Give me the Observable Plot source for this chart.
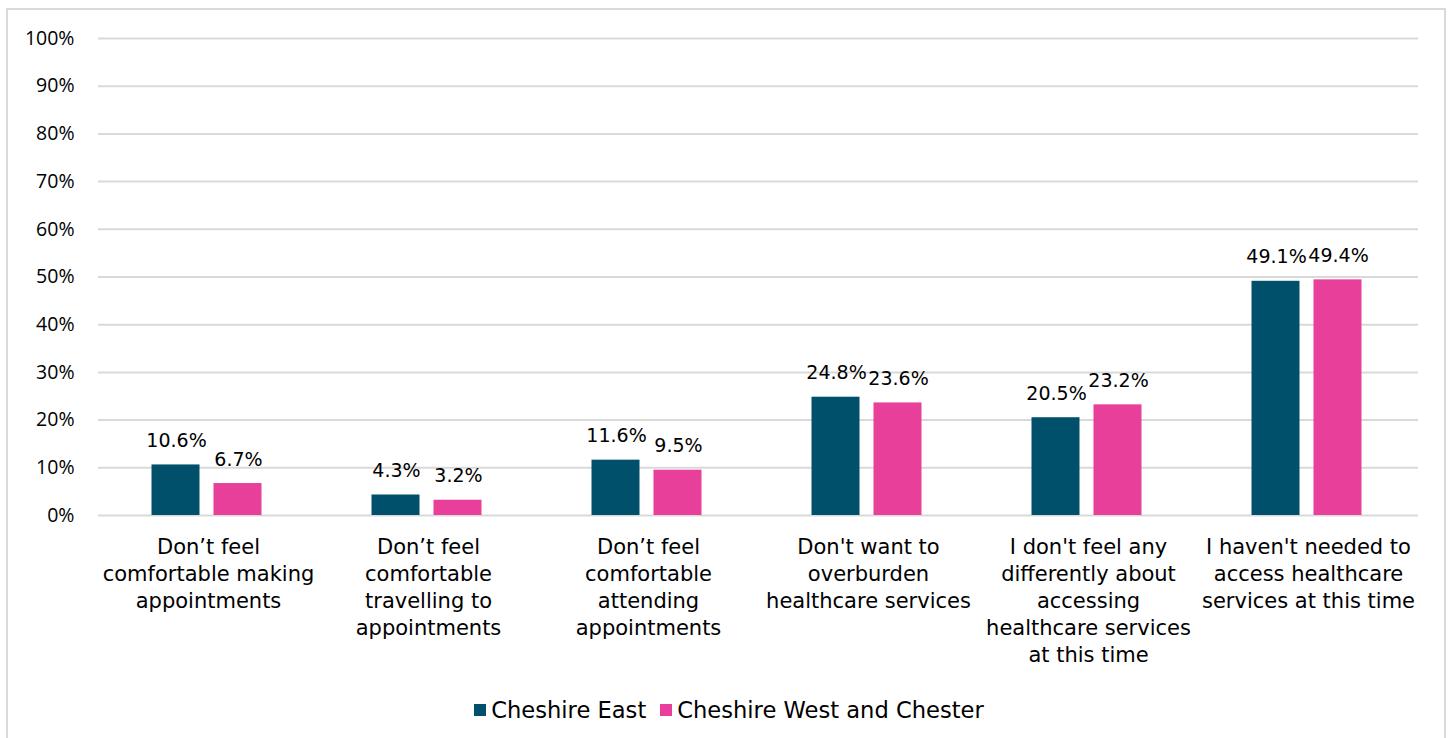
<!DOCTYPE html>
<html>
<head>
<meta charset="utf-8">
<script src="https://cdn.jsdelivr.net/npm/d3@7"></script>
<script src="https://cdn.jsdelivr.net/npm/@observablehq/plot@0.6"></script>
<style>
  html, body { margin: 0; padding: 0; background: #fff; }
  #frame { position: absolute; left: 6px; top: 8px; width: 1440px; height: 760px; border: 2px solid #D9D9D9; box-sizing: border-box; }
  #chart { position: absolute; left: 0; top: 0; }
  #legend { position: absolute; top: 697px; left: 0; width: 1458px; display: flex; justify-content: center; align-items: center; font-family: "DejaVu Sans", sans-serif; font-size: 22.6px; color: #000; }
  .item { display: flex; align-items: center; margin: 0 7px; }
  .sw { width: 12px; height: 12px; margin-right: 5px; }
</style>
</head>
<body>
<div id="frame"></div>
<div id="chart"></div>
<div id="legend"></div>
<script>
const categories = [
  "Don’t feel\ncomfortable making\nappointments",
  "Don’t feel\ncomfortable\ntravelling to\nappointments",
  "Don’t feel\ncomfortable\nattending\nappointments",
  "Don't want to\noverburden\nhealthcare services",
  "I don't feel any\ndifferently about\naccessing\nhealthcare services\nat this time",
  "I haven't needed to\naccess healthcare\nservices at this time"
];
const seriesNames = ["Cheshire East", "Cheshire West and Chester"];
const cheshireEast = [10.6, 4.3, 11.6, 24.8, 20.5, 49.1];
const cheshireWest = [6.7, 3.2, 9.5, 23.6, 23.2, 49.4];
const colors = ["#00506B", "#E8409A"];
const yTicks = [0, 10, 20, 30, 40, 50, 60, 70, 80, 90, 100];

const data = [];
categories.forEach((c, i) => {
  data.push({category: c, series: seriesNames[0], value: cheshireEast[i]});
  data.push({category: c, series: seriesNames[1], value: cheshireWest[i]});
});

const chart = Plot.plot({
  width: 1454,
  height: 690,
  marginLeft: 98,
  marginRight: 36,
  marginTop: 38,
  marginBottom: 175,
  style: {fontFamily: "DejaVu Sans, sans-serif", background: "transparent", overflow: "visible"},
  fx: {domain: categories, padding: 0, label: null},
  x: {domain: seriesNames, paddingInner: 0.22, paddingOuter: 0.86, axis: null},
  y: {domain: [0, 100], label: null},
  color: {domain: seriesNames, range: colors},
  marks: [
    Plot.ruleY(yTicks, {stroke: "#D9D9D9", strokeWidth: 2}),
    Plot.axisY({ticks: yTicks, tickFormat: d => d + "%", tickSize: 0, tickPadding: 24, fontSize: 19.5, fontFamily: "Open Sans, sans-serif", label: null, fill: "#000"}),
    Plot.axisFx({anchor: "bottom", tickSize: 0, tickPadding: 19, fontSize: 21, lineHeight: 1.29, label: null, fill: "#000"}),
    Plot.barY(data, {fx: "category", x: "series", y: "value", fill: "series", dx: -1.5}),
    Plot.text(data, {fx: "category", x: "series", y: "value", text: d => d.value.toFixed(1) + "%", lineAnchor: "bottom", dy: -18, dx: -1, fontSize: 19, fill: "#000"})
  ]
});
document.getElementById("chart").appendChild(chart);

const legend = document.getElementById("legend");
seriesNames.forEach((s, i) => {
  const item = document.createElement("div");
  item.className = "item";
  const sw = document.createElement("div");
  sw.className = "sw";
  sw.style.background = colors[i];
  const t = document.createElement("span");
  t.textContent = s;
  item.appendChild(sw);
  item.appendChild(t);
  legend.appendChild(item);
});
</script>
</body>
</html>
